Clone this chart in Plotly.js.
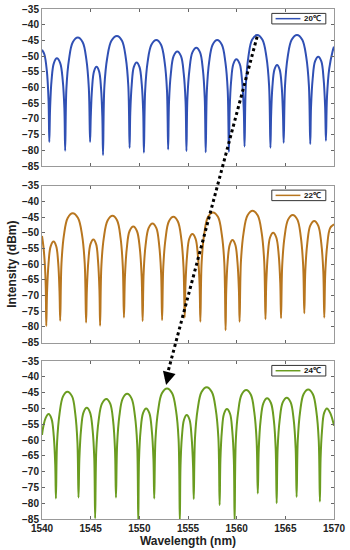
<!DOCTYPE html>
<html><head><meta charset="utf-8">
<script src="https://cdn.plot.ly/plotly-3.0.1.min.js"></script>
<style>html,body{margin:0;padding:0;background:#fff}#chart{width:350px;height:550px}</style>
</head><body><div id="chart"></div>
<script>
// ---- data ----
const wl20 = [1540.00,1540.24,1540.50,1540.67,1540.75,
1540.83,1540.98,1541.22,1541.53,1541.87,1542.13,1542.30,1542.38,
1542.51,1542.77,1543.16,1543.68,1544.18,1544.56,1544.81,1544.94,
1545.01,1545.14,1545.34,1545.60,1545.87,1546.07,1546.20,1546.27,
1546.41,1546.70,1547.13,1547.70,1548.22,1548.61,1548.87,1549.00,
1549.07,1549.22,1549.43,1549.72,1550.02,1550.25,1550.40,1550.47,
1550.60,1550.85,1551.24,1551.75,1552.23,1552.60,1552.84,1552.96,
1553.05,1553.24,1553.52,1553.90,1554.28,1554.56,1554.75,1554.84,
1554.94,1555.15,1555.45,1555.86,1556.24,1556.53,1556.72,1556.82,
1556.94,1557.17,1557.53,1558.00,1558.48,1558.84,1559.08,1559.20,
1559.28,1559.43,1559.66,1559.97,1560.31,1560.56,1560.73,1560.81,
1560.94,1561.20,1561.58,1562.10,1562.65,1563.06,1563.33,1563.47,
1563.54,1563.67,1563.88,1564.15,1564.42,1564.63,1564.76,1564.83,
1564.97,1565.24,1565.65,1566.20,1566.74,1567.15,1567.42,1567.56,
1567.64,1567.81,1568.05,1568.38,1568.70,1568.93,1569.09,1569.17,
1569.28,1569.51,1569.85,1570.00];
const db20 = [-48.0,-49.4,-54.8,-63.8,-77.3,
-66.7,-57.7,-52.2,-50.7,-52.2,-57.7,-66.7,-80.1,
-60.1,-51.1,-45.6,-44.1,-45.6,-51.1,-60.1,-77.3,
-69.4,-60.4,-54.9,-53.4,-54.9,-60.4,-69.4,-81.5,
-59.6,-50.6,-45.1,-43.6,-45.1,-50.6,-59.6,-79.2,
-68.0,-59.0,-53.5,-52.0,-53.5,-59.0,-68.0,-80.7,
-60.9,-51.9,-46.4,-44.9,-46.4,-51.9,-60.9,-79.7,
-64.5,-55.5,-50.0,-48.5,-50.0,-55.5,-64.5,-80.2,
-63.3,-54.3,-48.8,-47.3,-48.8,-54.3,-63.3,-80.6,
-60.9,-51.9,-46.4,-44.9,-46.4,-51.9,-60.9,-80.5,
-67.0,-58.0,-52.5,-51.0,-52.5,-58.0,-67.0,-78.8,
-59.3,-50.3,-44.8,-43.3,-44.8,-50.3,-59.3,-79.2,
-68.8,-59.8,-54.3,-52.8,-54.3,-59.8,-68.8,-77.6,
-59.3,-50.3,-44.8,-43.3,-44.8,-50.3,-59.3,-78.0,
-66.2,-57.2,-51.7,-50.2,-51.7,-57.2,-66.2,-76.9,
-63.0,-54.0,-48.5,-47.0];

const wl22 = [1540.00,1540.15,1540.30,1540.39,1540.44,
1540.52,1540.67,1540.89,1541.19,1541.46,1541.67,1541.80,1541.87,
1542.00,1542.25,1542.64,1543.15,1543.70,1544.12,1544.39,1544.53,
1544.61,1544.76,1544.98,1545.28,1545.56,1545.76,1545.90,1545.97,
1546.10,1546.35,1546.74,1547.25,1547.72,1548.07,1548.30,1548.42,
1548.52,1548.71,1548.99,1549.38,1549.76,1550.05,1550.24,1550.34,
1550.44,1550.64,1550.95,1551.35,1551.75,1552.04,1552.24,1552.34,
1552.46,1552.69,1553.03,1553.50,1553.96,1554.31,1554.54,1554.66,
1554.74,1554.90,1555.13,1555.45,1555.78,1556.02,1556.19,1556.27,
1556.40,1556.66,1557.05,1557.57,1558.09,1558.47,1558.73,1558.86,
1558.93,1559.07,1559.29,1559.57,1559.86,1560.08,1560.23,1560.30,
1560.44,1560.71,1561.11,1561.65,1562.17,1562.57,1562.83,1562.96,
1563.04,1563.20,1563.43,1563.75,1564.07,1564.32,1564.48,1564.56,
1564.68,1564.92,1565.28,1565.76,1566.24,1566.59,1566.83,1566.95,
1567.05,1567.26,1567.56,1567.97,1568.38,1568.69,1568.90,1569.00,
1569.10,1569.30,1569.60,1570.00];
const db22 = [-51.0,-54.5,-60.5,-68.0,-79.7,
-68.8,-59.8,-54.3,-52.8,-54.3,-59.8,-68.8,-78.0,
-59.8,-50.8,-45.3,-43.8,-45.3,-50.8,-59.8,-78.6,
-68.1,-59.1,-53.6,-52.1,-53.6,-59.1,-68.1,-79.6,
-60.6,-51.6,-46.1,-44.6,-46.1,-51.6,-60.6,-77.0,
-64.0,-55.0,-49.5,-48.0,-49.5,-55.0,-64.0,-78.1,
-63.0,-54.0,-48.5,-47.0,-48.5,-54.0,-63.0,-77.8,
-60.9,-51.9,-46.4,-44.9,-46.4,-51.9,-60.9,-77.0,
-66.4,-57.4,-51.9,-50.4,-51.9,-57.4,-66.4,-78.3,
-59.5,-50.5,-45.0,-43.5,-45.0,-50.5,-59.5,-81.0,
-68.3,-59.3,-53.8,-52.3,-53.8,-59.3,-68.3,-78.3,
-59.0,-50.0,-44.5,-43.0,-44.5,-50.0,-59.0,-77.5,
-66.0,-57.0,-51.5,-50.0,-51.5,-57.0,-66.0,-77.2,
-60.3,-51.3,-45.8,-44.3,-45.8,-51.3,-60.3,-75.6,
-62.2,-53.2,-47.7,-46.2,-47.7,-53.2,-62.2,-77.0,
-63.0,-54.0,-48.5,-47.3];

const wl24 = [1540.00,1540.15,1540.38,1540.68,1540.98,1541.21,1541.36,1541.43,
1541.55,1541.80,1542.16,1542.60,1543.09,1543.42,1543.64,1543.75,
1543.84,1544.01,1544.26,1544.60,1544.94,1545.20,1545.37,1545.46,
1545.58,1545.81,1546.16,1546.62,1547.01,1547.31,1547.50,1547.60,
1547.72,1547.95,1548.29,1548.75,1549.21,1549.55,1549.78,1549.89,
1549.97,1550.13,1550.38,1550.70,1551.03,1551.28,1551.45,1551.53,
1551.66,1551.93,1552.32,1552.85,1553.37,1553.77,1554.03,1554.16,
1554.23,1554.37,1554.59,1554.87,1555.16,1555.37,1555.52,1555.59,
1555.72,1555.99,1556.39,1556.92,1557.45,1557.85,1558.12,1558.25,
1558.33,1558.48,1558.70,1559.00,1559.32,1559.55,1559.71,1559.79,
1559.91,1560.15,1560.50,1560.98,1561.46,1561.81,1562.05,1562.17,
1562.27,1562.46,1562.75,1563.13,1563.52,1563.82,1564.01,1564.11,
1564.21,1564.42,1564.73,1565.15,1565.55,1565.86,1566.06,1566.16,
1566.28,1566.52,1566.87,1567.35,1567.83,1568.19,1568.43,1568.55,
1568.62,1568.77,1568.98,1569.27,1569.62,1570.00];
const db24 = [-58.4,-55.5,-53.0,-51.8,-53.3,-58.8,-67.8,-78.5,
-60.7,-51.7,-46.2,-44.7,-46.2,-51.7,-60.7,-78.2,
-65.8,-56.8,-51.3,-49.8,-51.3,-56.8,-65.8,-84.8,
-63.0,-54.0,-48.5,-47.0,-48.5,-54.0,-63.0,-78.2,
-61.4,-52.4,-46.9,-45.4,-46.9,-52.4,-61.4,-86.0,
-66.0,-57.0,-51.5,-50.0,-51.5,-57.0,-66.0,-78.5,
-59.7,-50.7,-45.2,-43.7,-45.2,-50.7,-59.7,-86.0,
-68.1,-59.1,-53.6,-52.1,-53.6,-59.1,-68.1,-78.7,
-59.3,-50.3,-44.8,-43.3,-44.8,-50.3,-59.3,-80.6,
-66.2,-57.2,-51.7,-50.2,-51.7,-57.2,-66.2,-86.0,
-60.2,-51.2,-45.7,-44.2,-45.7,-51.2,-60.2,-76.9,
-62.8,-53.8,-48.3,-46.8,-48.3,-53.8,-62.8,-80.0,
-62.6,-53.6,-48.1,-46.6,-48.1,-53.6,-62.6,-78.0,
-60.0,-51.0,-45.5,-44.0,-45.5,-51.0,-60.0,-79.5,
-66.0,-57.0,-51.5,-50.0,-51.5,-55.5];

const seriesNames = ['20\u2103', '22\u2103', '24\u2103'];
const xTickVals = [1540, 1545, 1550, 1555, 1560, 1565, 1570];
const yTickVals = [-85, -80, -75, -70, -65, -60, -55, -50, -45, -40, -35];
const xRange = [1540, 1570];
const yRange = [-85, -35];
// dotted arrow: from a 20℃ peak (panel 1) to a 24℃ peak (panel 3)
const arrowFrom = [1562.1, -43.8];
const arrowTo = [1552.75, -42.6];

// ---- styling ----
const colors = ['#3050b4', '#b8761f', '#6a9c20'];
const domains = [[0.692, 1.0], [0.3457, 0.6535], [0.0, 0.3098]];
const FONT = 'Liberation Sans, Arial, sans-serif';
const axName = (p, i) => i === 0 ? p : p + (i + 1);

const xs = [wl20, wl22, wl24], ys = [db20, db22, db24];
const traces = xs.map((x, i) => ({
  x: x, y: ys[i], type: 'scatter', mode: 'lines',
  name: seriesNames[i], showlegend: false,
  xaxis: axName('x', i), yaxis: axName('y', i),
  line: {color: colors[i], width: 2, shape: 'spline', smoothing: 1}
}));

function xAxis(i) {
  return {
    domain: [0, 1], range: xRange, anchor: axName('y', i),
    tickvals: xTickVals, showticklabels: i === 2,
    ticks: 'inside', ticklen: 3, tickcolor: '#666', mirror: 'ticks',
    showline: true, linecolor: '#999', linewidth: 1, showgrid: false, zeroline: false,
    tickfont: {family: FONT, size: 10, color: '#222', weight: 'bold'}
  };
}
function yAxis(i) {
  return {
    domain: domains[i], range: yRange, anchor: axName('x', i),
    tickvals: yTickVals,
    ticks: 'inside', ticklen: 3, tickcolor: '#666', mirror: 'ticks',
    showline: true, linecolor: '#999', linewidth: 1, showgrid: false, zeroline: false,
    tickfont: {family: FONT, size: 10, color: '#222', weight: 'bold'}
  };
}
function toPaper(pt, dom) {
  return [(pt[0] - xRange[0]) / (xRange[1] - xRange[0]),
          dom[0] + (pt[1] - yRange[0]) / (yRange[1] - yRange[0]) * (dom[1] - dom[0])];
}
const pA = toPaper(arrowFrom, domains[0]);
const pB = toPaper(arrowTo, domains[2]);

const shapes = [{type: 'line', xref: 'paper', yref: 'paper', x0: pA[0], y0: pA[1], x1: pB[0], y1: pB[1] + 0.012,
                 line: {color: '#000', width: 3, dash: 'dot'}}];
const annotations = [{xref: 'x3', yref: 'y3', x: arrowTo[0], y: arrowTo[1], text: '',
                      showarrow: true, arrowhead: 2, arrowsize: 1.3, arrowwidth: 2, arrowcolor: '#000',
                      ax: 3, ay: -12}];
// legend boxes drawn in each panel's top-right corner
seriesNames.forEach((name, i) => {
  const xr = axName('x', i) + ' domain', yr = axName('y', i) + ' domain';
  shapes.push({type: 'rect', xref: xr, yref: yr, x0: 0.787, x1: 0.972, y0: 0.905, y1: 0.972,
               line: {color: '#333', width: 1}, fillcolor: '#fff', layer: 'above'});
  shapes.push({type: 'line', xref: xr, yref: yr, x0: 0.80, x1: 0.885, y0: 0.9385, y1: 0.9385,
               line: {color: colors[i], width: 1.5}, layer: 'above'});
  annotations.push({xref: xr, yref: yr, x: 0.892, y: 0.9385, xanchor: 'left', yanchor: 'middle',
                    text: name, showarrow: false,
                    font: {family: FONT, size: 8, color: '#111', weight: 'bold'}});
});

const layout = {
  width: 350, height: 550,
  margin: {l: 42, r: 16, t: 9, b: 31},
  paper_bgcolor: '#fff', plot_bgcolor: '#fff',
  font: {family: FONT, color: '#222'},
  showlegend: false,
  xaxis: xAxis(0), xaxis2: xAxis(1), xaxis3: xAxis(2),
  yaxis: yAxis(0), yaxis2: yAxis(1), yaxis3: yAxis(2),
  shapes: shapes, annotations: annotations
};
layout.xaxis3.title = {text: 'Wavelength (nm)', font: {family: FONT, size: 12, color: '#222', weight: 'bold'}, standoff: 2};
layout.yaxis2.title = {text: 'Intensity (dBm)', font: {family: FONT, size: 12, color: '#222', weight: 'bold'}, standoff: 2};

Plotly.newPlot('chart', traces, layout, {displayModeBar: false, staticPlot: true});
</script>
</body></html>
